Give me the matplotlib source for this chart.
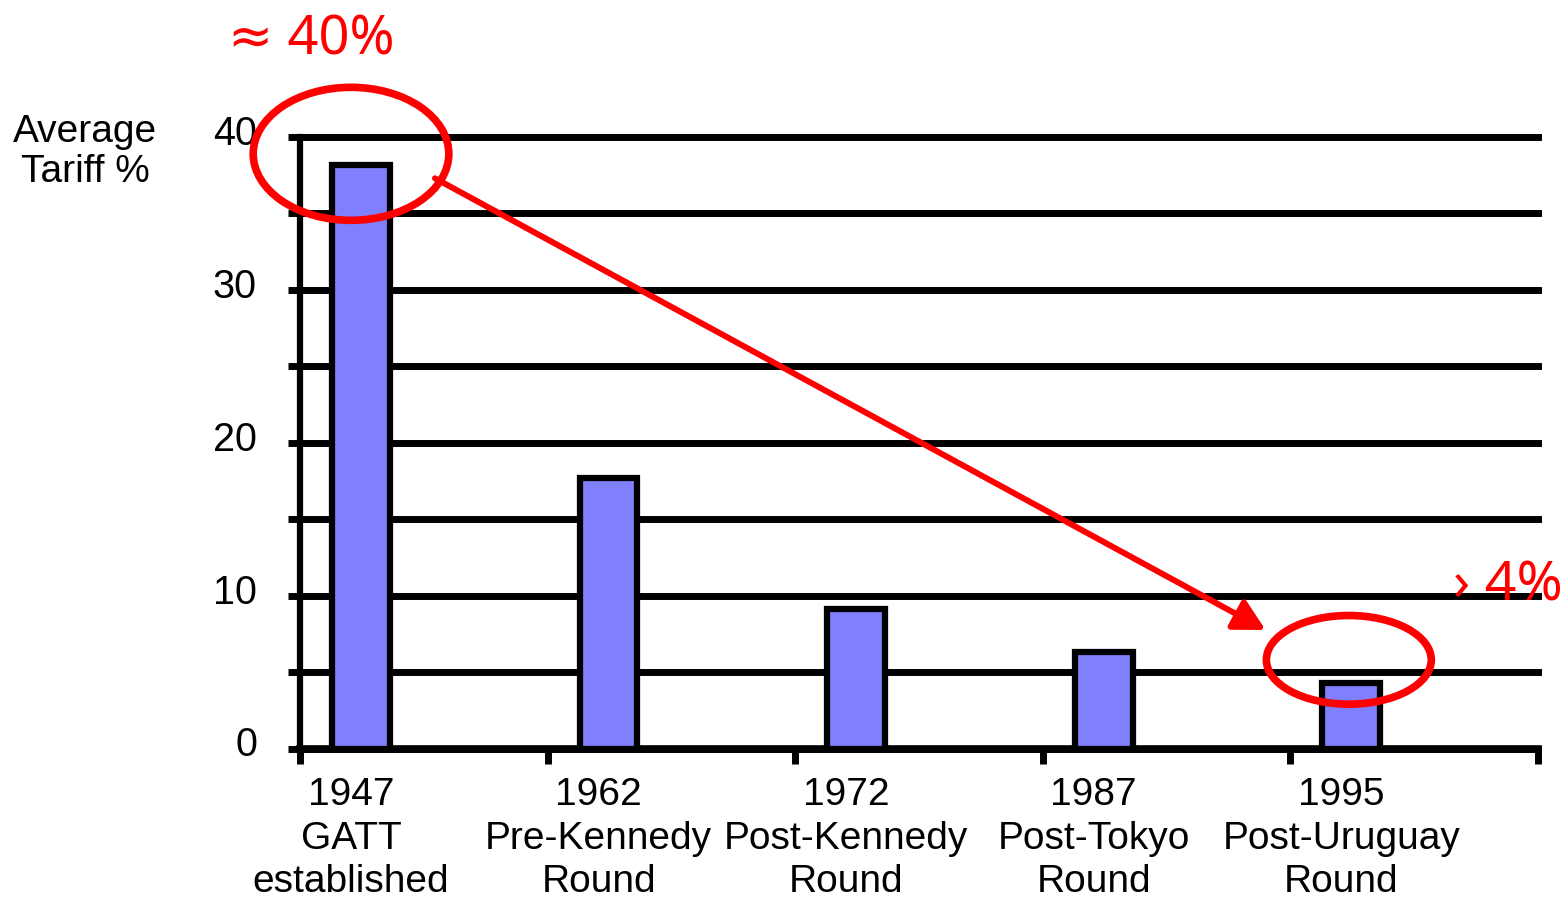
import matplotlib
matplotlib.use("Agg")
import matplotlib.pyplot as plt
import matplotlib.transforms as mtransforms
from matplotlib.patches import Ellipse
import numpy as np

# ---- data ----
years = ["1947", "1962", "1972", "1987", "1995"]
rounds = ["GATT\nestablished", "Pre-Kennedy\nRound", "Post-Kennedy\nRound",
          "Post-Tokyo\nRound", "Post-Uruguay\nRound"]
tariffs = [38.2, 17.7, 9.1, 6.3, 4.3]
ytick_labels = ["0", "10", "20", "30", "40"]
ylabel_text = "Average\nTariff %"
note_start = "≈ 40%"
note_end = "› 4%"

FONT = ["Liberation Sans", "DejaVu Sans"]
RED = "#FF0000"

fig = plt.figure(figsize=(15.65, 9.08), dpi=100)
W, H = 1565, 908
ax = fig.add_axes([300 / W, 1 - 748.5 / H, (1538 - 300) / W, (748.5 - 137) / H])

x = np.arange(len(years))
bar_off = 0.246
bar_w = 0.234
ax.bar(x + bar_off, tariffs, width=bar_w, color="#8080FF", edgecolor="black",
       linewidth=4.5, zorder=3)

ax.set_xlim(0, len(years))
ax.set_ylim(0, 40)

ax.set_yticks([0, 10, 20, 30, 40])
ax.set_yticklabels(ytick_labels, fontfamily=FONT, fontsize=28.5)
ax.set_yticks([5, 15, 25, 35], minor=True)
ax.tick_params(axis="y", which="both", direction="out", length=9, width=5,
               pad=22, color="black")
ax.yaxis.grid(True, which="both", color="black", linewidth=5)
for t in ax.yaxis.get_major_ticks() + ax.yaxis.get_minor_ticks():
    t.gridline.set_clip_on(False)
shift = mtransforms.ScaledTranslation(0, 0.07, fig.dpi_scale_trans)
for lab in ax.get_yticklabels():
    lab.set_transform(lab.get_transform() + shift)
ax.set_axisbelow(True)

ax.set_xticks(np.arange(len(years) + 1))
ax.set_xticklabels([])
ax.tick_params(axis="x", direction="out", length=11, width=5, color="black")

for s in ["top", "right"]:
    ax.spines[s].set_visible(False)
ax.spines["left"].set_linewidth(4.5)
ax.spines["bottom"].set_linewidth(5.5)

trans = mtransforms.blended_transform_factory(ax.transData, ax.transAxes)
for i, (yr, rd) in enumerate(zip(years, rounds)):
    ax.text(x[i] + bar_off - 0.04, -0.047, yr + "\n" + rd, transform=trans,
            ha="center", va="top", fontfamily=FONT, fontsize=28,
            linespacing=1.26, clip_on=False)

fig.text(85 / W, 1 - 114 / H, ylabel_text, ha="center", va="top",
         fontfamily=FONT, fontsize=28, linespacing=1.15)

# ---- annotations ----
e1 = Ellipse((x[0] + bar_off - 0.04, tariffs[0] + 0.7), width=0.79, height=8.7,
             fill=False, edgecolor=RED, linewidth=5.5, zorder=5, clip_on=False)
e2 = Ellipse((x[4] + bar_off - 0.01, tariffs[4] + 1.5), width=0.666, height=5.8,
             fill=False, edgecolor=RED, linewidth=5.5, zorder=5, clip_on=False)
ax.add_patch(e1)
ax.add_patch(e2)

ax.annotate("", xy=(3.90, 7.75), xytext=(0.545, 37.3),
            arrowprops=dict(arrowstyle="-|>,head_length=0.75,head_width=0.4",
                            color=RED, linewidth=4.3, shrinkA=0, shrinkB=0,
                            mutation_scale=25),
            zorder=6, annotation_clip=False)

ax.text(-0.29, 45.4, note_start, color=RED, fontsize=39,
        fontfamily=["Noto Sans", "DejaVu Sans"], ha="left", va="baseline",
        clip_on=False)
ax.text(4.657, 9.7, note_end, color=RED, fontsize=40,
        fontfamily=["Noto Sans", "DejaVu Sans"], ha="left", va="baseline",
        clip_on=False)

fig.savefig("out.png", dpi=100)
